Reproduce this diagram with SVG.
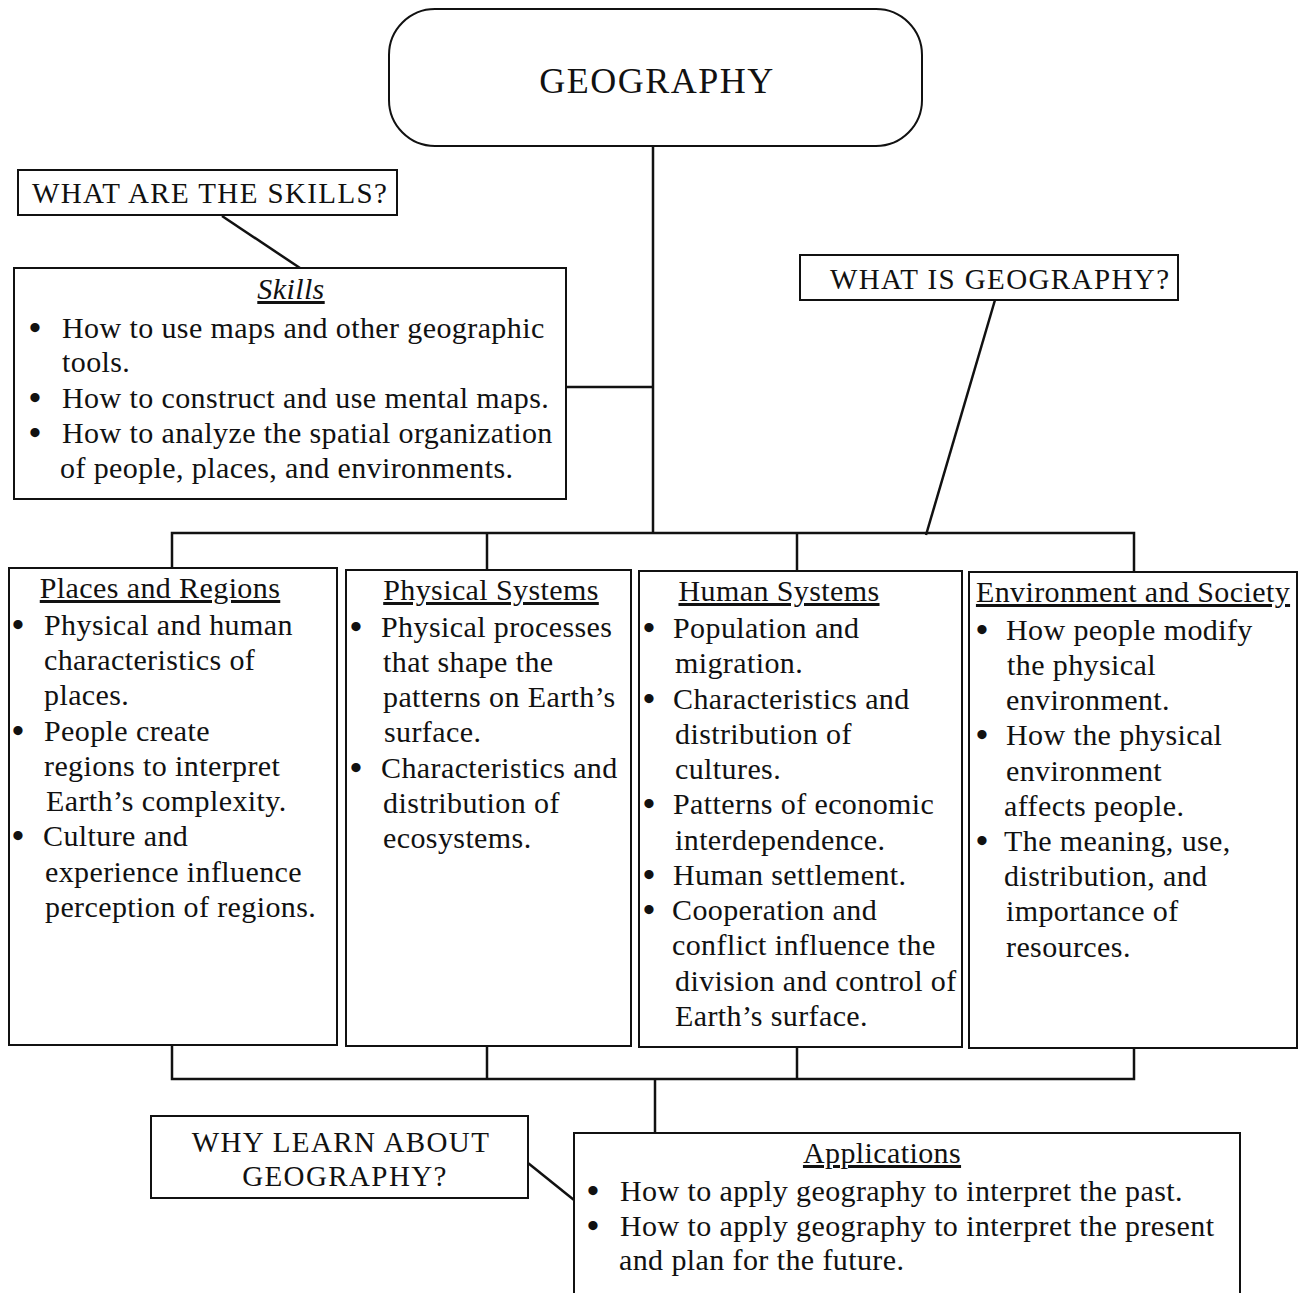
<svg xmlns="http://www.w3.org/2000/svg" width="1304" height="1293" viewBox="0 0 1304 1293">
  <style>
    text { font-family: "Liberation Serif", "Times New Roman", serif; fill: #111; }
    .box { fill: #fff; stroke: #111; stroke-width: 2; }
    .wire { fill: none; stroke: #111; stroke-width: 2.5; }
    .q { font-size: 29px; letter-spacing: 1.4px; }
    .t { font-size: 30px; letter-spacing: 0.4px; }
    .b { font-size: 34px; font-weight: bold; }
    .h { font-size: 30px; letter-spacing: 0.4px; text-decoration: underline; }
    .title { font-size: 36px; letter-spacing: 1.5px; }
  </style>
  <rect width="1304" height="1293" fill="#fff"/>

  <!-- connectors -->
  <g id="connectors" class="wire">
    <line x1="653" y1="146" x2="653" y2="533"/>
    <line x1="566" y1="387" x2="653" y2="387"/>
    <line x1="222" y1="216" x2="300" y2="268"/>
    <line x1="995" y1="300" x2="926" y2="535"/>
    <polyline points="172,570 172,533 1134,533 1134,572"/>
    <line x1="487" y1="533" x2="487" y2="570"/>
    <line x1="797" y1="533" x2="797" y2="571"/>
    <polyline points="172,1045 172,1079 1134,1079 1134,1048"/>
    <line x1="487" y1="1046" x2="487" y2="1079"/>
    <line x1="797" y1="1047" x2="797" y2="1079"/>
    <line x1="655" y1="1079" x2="655" y2="1133"/>
    <line x1="528" y1="1163" x2="574" y2="1200"/>
  </g>

  <g id="geography">
    <rect class="box" x="389" y="9" width="533" height="137" rx="46" ry="46"/>
    <text class="title" x="657" y="93" text-anchor="middle">GEOGRAPHY</text>
  </g>

  <g id="q-skills">
    <rect class="box" x="18" y="170" width="379" height="45"/>
    <text class="q" x="32" y="203">WHAT ARE THE SKILLS?</text>
  </g>

  <g id="skills">
    <rect class="box" x="14" y="268" width="552" height="231"/>
    <text class="h" x="291" y="299" text-anchor="middle" font-style="italic">Skills</text>
    <g class="b">
      <text x="29" y="339">•</text>
      <text x="29" y="409">•</text>
      <text x="29" y="444">•</text>
    </g>
    <g class="t">
      <text x="62" y="338">How to use maps and other geographic</text>
      <text x="62" y="372">tools.</text>
      <text x="62" y="408">How to construct and use mental maps.</text>
      <text x="62" y="443">How to analyze the spatial organization</text>
      <text x="60" y="478">of people, places, and environments.</text>
    </g>
  </g>

  <g id="q-what">
    <rect class="box" x="800" y="255" width="378" height="45"/>
    <text class="q" x="830" y="289">WHAT IS GEOGRAPHY?</text>
  </g>

  <g id="places">
    <rect class="box" x="9" y="568" width="328" height="477"/>
    <text class="h" x="160" y="598" text-anchor="middle">Places and Regions</text>
    <g class="b">
      <text x="12" y="636">•</text>
      <text x="12" y="742">•</text>
      <text x="12" y="847">•</text>
    </g>
    <g class="t">
      <text x="44" y="635">Physical and human</text>
      <text x="44" y="670">characteristics of</text>
      <text x="44" y="705">places.</text>
      <text x="44" y="741">People create</text>
      <text x="44" y="776">regions to interpret</text>
      <text x="46" y="811">Earth’s complexity.</text>
      <text x="43" y="846">Culture and</text>
      <text x="45" y="882">experience influence</text>
      <text x="45" y="917">perception of regions.</text>
    </g>
  </g>

  <g id="physical">
    <rect class="box" x="346" y="570" width="285" height="476"/>
    <text class="h" x="491" y="600" text-anchor="middle">Physical Systems</text>
    <g class="b">
      <text x="350" y="638">•</text>
      <text x="350" y="779">•</text>
    </g>
    <g class="t">
      <text x="381" y="637">Physical processes</text>
      <text x="383" y="672">that shape the</text>
      <text x="383" y="707">patterns on Earth’s</text>
      <text x="384" y="742">surface.</text>
      <text x="381" y="778">Characteristics and</text>
      <text x="383" y="813">distribution of</text>
      <text x="383" y="848">ecosystems.</text>
    </g>
  </g>

  <g id="human">
    <rect class="box" x="639" y="571" width="323" height="476"/>
    <text class="h" x="779" y="601" text-anchor="middle">Human Systems</text>
    <g class="b">
      <text x="643" y="639">•</text>
      <text x="643" y="710">•</text>
      <text x="643" y="815">•</text>
      <text x="643" y="886">•</text>
      <text x="643" y="921">•</text>
    </g>
    <g class="t">
      <text x="673" y="638">Population and</text>
      <text x="675" y="673">migration.</text>
      <text x="673" y="709">Characteristics and</text>
      <text x="675" y="744">distribution of</text>
      <text x="675" y="779">cultures.</text>
      <text x="673" y="814">Patterns of economic</text>
      <text x="675" y="850">interdependence.</text>
      <text x="673" y="885">Human settlement.</text>
      <text x="672" y="920">Cooperation and</text>
      <text x="672" y="955">conflict influence the</text>
      <text x="675" y="991">division and control of</text>
      <text x="675" y="1026">Earth’s surface.</text>
    </g>
  </g>

  <g id="environment">
    <rect class="box" x="969" y="572" width="328" height="476"/>
    <text class="h" x="1133" y="602" text-anchor="middle">Environment and Society</text>
    <g class="b">
      <text x="976" y="641">•</text>
      <text x="976" y="746">•</text>
      <text x="976" y="852">•</text>
    </g>
    <g class="t">
      <text x="1006" y="640">How people modify</text>
      <text x="1007" y="675">the physical</text>
      <text x="1006" y="710">environment.</text>
      <text x="1006" y="745">How the physical</text>
      <text x="1006" y="781">environment</text>
      <text x="1004" y="816">affects people.</text>
      <text x="1004" y="851">The meaning, use,</text>
      <text x="1004" y="886">distribution, and</text>
      <text x="1006" y="921">importance of</text>
      <text x="1006" y="957">resources.</text>
    </g>
  </g>

  <g id="q-why">
    <rect class="box" x="151" y="1116" width="377" height="82"/>
    <text class="q" x="341" y="1152" text-anchor="middle">WHY LEARN ABOUT</text>
    <text class="q" x="345" y="1186" text-anchor="middle">GEOGRAPHY?</text>
  </g>

  <g id="applications">
    <rect class="box" x="574" y="1133" width="666" height="180"/>
    <text class="h" x="882" y="1163" text-anchor="middle">Applications</text>
    <g class="b">
      <text x="587" y="1202">•</text>
      <text x="587" y="1237">•</text>
    </g>
    <g class="t">
      <text x="620" y="1201">How to apply geography to interpret the past.</text>
      <text x="620" y="1236">How to apply geography to interpret the present</text>
      <text x="619" y="1270">and plan for the future.</text>
    </g>
  </g>
</svg>
